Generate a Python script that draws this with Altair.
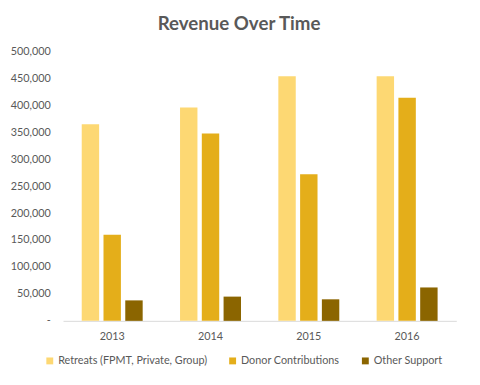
import altair as alt
import pandas as pd

years = ["2013", "2014", "2015", "2016"]
series = ["Retreats (FPMT, Private, Group)", "Donor Contributions", "Other Support"]
retreats = [365000, 396000, 454000, 454000]
donor = [160000, 348000, 272000, 414000]
other = [38000, 45000, 40000, 62000]
colors = ["#FDD873", "#E4AE1A", "#8B6500"]

rows = []
for i, y in enumerate(years):
    for s, vals in zip(series, [retreats, donor, other]):
        rows.append({"Year": y, "Series": s, "Value": vals[i]})
df = pd.DataFrame(rows)

FONT = "Lato"
GREY = "#595959"

chart = alt.Chart(df).mark_bar().encode(
    x=alt.X("Year:N", sort=years, title=None,
            scale=alt.Scale(paddingInner=0.38, paddingOuter=0.19),
            axis=alt.Axis(labelAngle=0, ticks=False, domainColor="#D9D9D9",
                          labelColor=GREY, labelFont=FONT, labelFontSize=11,
                          labelPadding=10, grid=False)),
    xOffset=alt.XOffset("Series:N", sort=series,
                        scale=alt.Scale(paddingInner=0.2, paddingOuter=0)),
    y=alt.Y("Value:Q", title=None,
            scale=alt.Scale(domain=[0, 500000], nice=False),
            axis=alt.Axis(values=list(range(0, 500001, 50000)), grid=False,
                          ticks=False, domain=False, labelColor=GREY,
                          labelFont=FONT, labelFontSize=11, labelPadding=13,
                          labelExpr="datum.value == 0 ? '-' : format(datum.value, ',')")),
    color=alt.Color("Series:N", sort=series,
                    scale=alt.Scale(domain=series, range=colors),
                    legend=alt.Legend(title=None, orient="none", direction="horizontal",
                                      legendX=-19, legendY=309, symbolType="square",
                                      symbolSize=49, symbolStrokeWidth=0,
                                      labelFont=FONT, labelFontSize=11, labelColor=GREY,
                                      labelOffset=3, columnPadding=20, labelLimit=300)),
).properties(
    width=400,
    height=274,
    title=alt.TitleParams("Revenue Over Time", font=FONT, fontSize=19,
                          fontWeight="bold", color=GREY, dx=-21, offset=12),
    autosize=alt.AutoSizeParams(type="none"),
    padding={"left": 56, "top": 41, "right": 16, "bottom": 62},
).configure_view(stroke=None)

chart.save("out.html", embed_options={"renderer": "svg", "actions": False})
